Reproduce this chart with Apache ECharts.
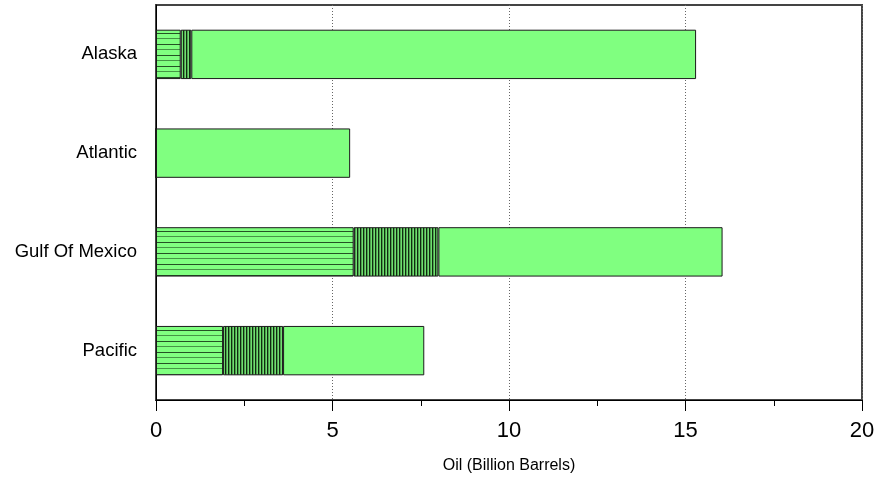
<!DOCTYPE html>
<html>
<head>
<meta charset="utf-8">
<script src="https://cdn.jsdelivr.net/npm/echarts@6/dist/echarts.min.js"></script>
<style>html,body{margin:0;padding:0;background:#fff;}#c{width:880px;height:483px;}</style>
</head>
<body>
<div id="c"></div>
<script>
const categories = ['Alaska', 'Atlantic', 'Gulf Of Mexico', 'Pacific'];
const horizStriped = [0.7, 0, 5.6, 1.9];
const vertStriped = [0.3, 0, 2.4, 1.7];
const plain = [14.3, 5.5, 8.05, 4.0];
const xTicks = [0, 5, 10, 15, 20];
const xTitle = 'Oil (Billion Barrels)';

const GREEN = '#80ff80';
function hPattern() {
  const c = document.createElement('canvas');
  c.width = 8; c.height = 11;
  const g = c.getContext('2d');
  g.fillStyle = GREEN; g.fillRect(0, 0, 8, 11);
  g.fillStyle = '#245224'; g.fillRect(0, 0, 8, 1);
  g.fillStyle = '#459545'; g.fillRect(0, 5, 8, 1);
  return { image: c, repeat: 'repeat' };
}
function vPattern() {
  const c = document.createElement('canvas');
  c.width = 3; c.height = 8;
  const g = c.getContext('2d');
  g.fillStyle = '#6fe06f'; g.fillRect(0, 0, 3, 8);
  g.fillStyle = '#102a10'; g.fillRect(0, 0, 1, 8);
  g.fillStyle = '#4f9f4f'; g.fillRect(1, 0, 1, 8);
  return { image: c, repeat: 'repeat' };
}

const chart = echarts.init(document.getElementById('c'), null, { renderer: 'canvas' });
const font = '"Liberation Sans", Arial, sans-serif';
const barStyle = (color) => ({ color: color, borderColor: '#1a1a1a', borderWidth: 1 });
chart.setOption({
  animation: false,
  backgroundColor: '#fff',
  grid: { left: 156, right: 18, top: 5, bottom: 83, show: true, borderColor: '#444', borderWidth: 2, backgroundColor: 'transparent' },
  xAxis: {
    type: 'value', min: xTicks[0], max: xTicks[xTicks.length - 1], interval: 5,
    name: xTitle, nameLocation: 'middle', nameGap: 58,
    nameTextStyle: { fontFamily: font, fontSize: 16, color: '#000' },
    axisLine: { show: true, lineStyle: { color: '#000', width: 1 } },
    axisTick: { show: true, length: 11, lineStyle: { color: '#000' } },
    minorTick: { show: true, splitNumber: 2, length: 6, lineStyle: { color: '#000' } },
    axisLabel: { fontFamily: font, fontSize: 22, color: '#000', margin: 20 },
    splitLine: { show: true, lineStyle: { color: '#666', type: [1, 2], width: 1 } }
  },
  yAxis: {
    type: 'category', data: categories, inverse: true,
    axisLine: { show: true, lineStyle: { color: '#000', width: 1 } },
    axisTick: { show: false },
    axisLabel: { fontFamily: font, fontSize: 18.5, color: '#000', margin: 19 },
    splitLine: { show: false }
  },
  series: [
    { type: 'bar', stack: 's', data: horizStriped, barWidth: '50%', itemStyle: barStyle(hPattern()) },
    { type: 'bar', stack: 's', data: vertStriped, barWidth: '50%', itemStyle: barStyle(vPattern()) },
    { type: 'bar', stack: 's', data: plain, barWidth: '50%', itemStyle: barStyle(GREEN) }
  ]
});
</script>
</body>
</html>
